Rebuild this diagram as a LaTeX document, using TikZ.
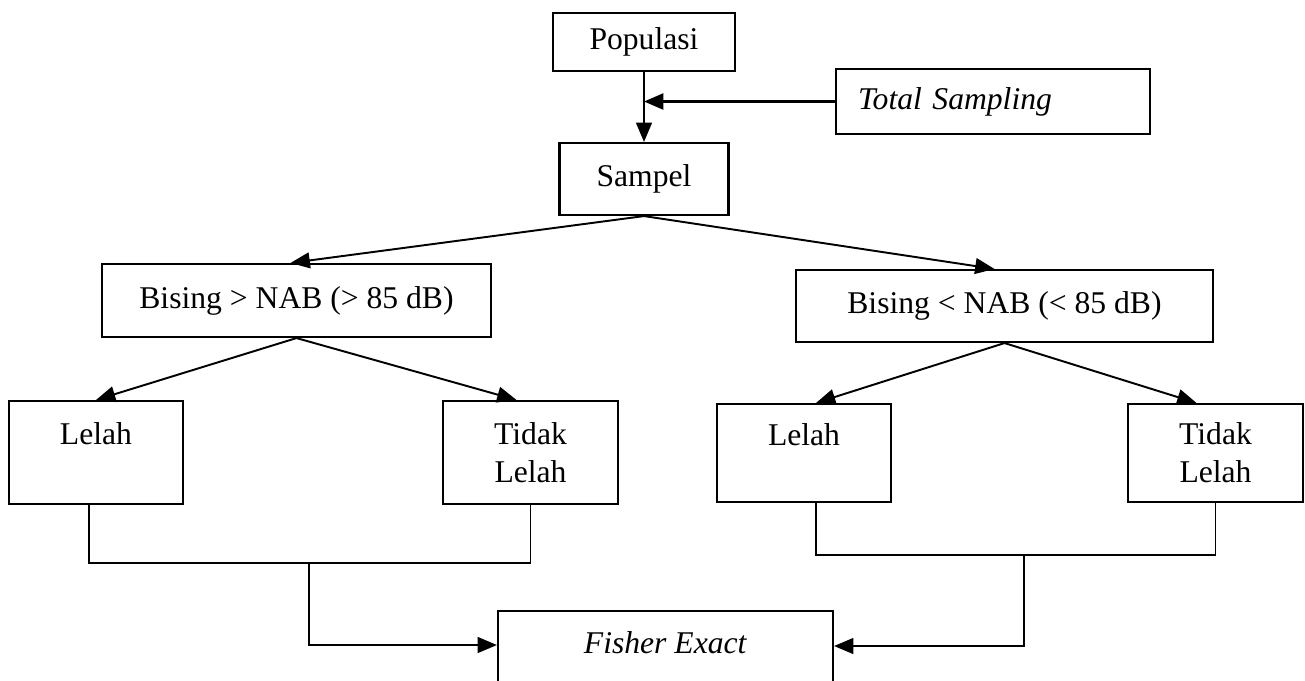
\documentclass[tikz,border=0pt]{standalone}
\usepackage{fontspec}
\setmainfont{Liberation Serif}
\usetikzlibrary{arrows.meta}

\begin{document}
\begin{tikzpicture}[
    x = 0.2mm, y = -0.2mm,
    every node/.style = {font = \fontsize{18}{21.6}\selectfont},
    box/.style        = {draw, line width = 1.2pt, inner sep = 0pt, align = center},
    arr/.style        = {-{Triangle[length = 11pt, width = 9pt]}, line width = 1.1pt},
    link/.style       = {line width = 1.1pt},
]
\useasboundingbox (0,0) rectangle (1305,680);
\clip (0,0) rectangle (1305,680);

% ---------- explicit grid: (x, y) in pixels of the page ----------
\node[box, minimum width = 36.4mm, minimum height = 11.6mm] (pop)    at ( 644,  42) {Populasi};
\node[box, align = left, text width = 54mm, inner xsep = 4.4mm, minimum height = 13mm]
                                                          (total)  at ( 993, 101.5) {\textit{Total Sampling}};
\node[box, minimum width = 33.8mm, minimum height = 14.4mm] (sampel) at ( 644, 179) {Sampel};

\node[box, minimum width = 77.8mm, minimum height = 14.6mm] (bisA)   at ( 296.5, 300.5) {Bising > NAB (> 85 dB)};
\node[box, minimum width = 83.4mm, minimum height = 14.4mm] (bisB)   at (1004.5, 306) {Bising < NAB (< 85 dB)};

\node[box, minimum width = 34.8mm, minimum height = 20.6mm] (lelahA) at (  96, 452.5) {Lelah\\~};
\node[box, minimum width = 35mm,   minimum height = 20.6mm] (tidakA) at ( 530.5, 452.5) {Tidak\\Lelah};
\node[box, minimum width = 34.8mm, minimum height = 19.6mm] (lelahB) at ( 804, 453) {Lelah\\~};
\node[box, minimum width = 35mm,   minimum height = 19.6mm] (tidakB) at (1215.5, 453) {Tidak\\Lelah};

\node[box, minimum width = 67mm, minimum height = 20mm] (fisher) at ( 665.5, 661) {\textit{Fisher Exact}\\~};

\coordinate (jA) at ( 309, 562);
\coordinate (jB) at (1024, 554);

% ---------- sampling ----------
\draw[arr] (pop) -- (sampel);
\draw[arr, line width = 1.6pt] (total.west) -- (pop |- total.west);

% ---------- split by noise level ----------
\draw[arr] (sampel.south) -- ([xshift = -1.2mm]bisA.north);
\draw[arr] (sampel.south) -- ([xshift = -2mm]bisB.north);

\draw[arr] (bisA.south) -- (lelahA.north);
\draw[arr] (bisA.south) -- ([xshift = -2.8mm]tidakA.north);
\draw[arr] (bisB.south) -- ([xshift = 2.4mm]lelahB.north);
\draw[arr] (bisB.south) -- ([xshift = -3.8mm]tidakB.north);

% ---------- into the test ----------
\draw[link] ([xshift = -1.4mm]lelahA.south) -- ++(0,58) -| (tidakA.south);
\draw[link] ([xshift = 2.4mm]lelahB.south) -- ++(0,52) -| (tidakB.south);
\draw[arr] (jA) |- ([yshift = 3.2mm]fisher.west);
\draw[arr] (jB) |- ([yshift = 3mm]fisher.east);

\end{tikzpicture}
\end{document}
